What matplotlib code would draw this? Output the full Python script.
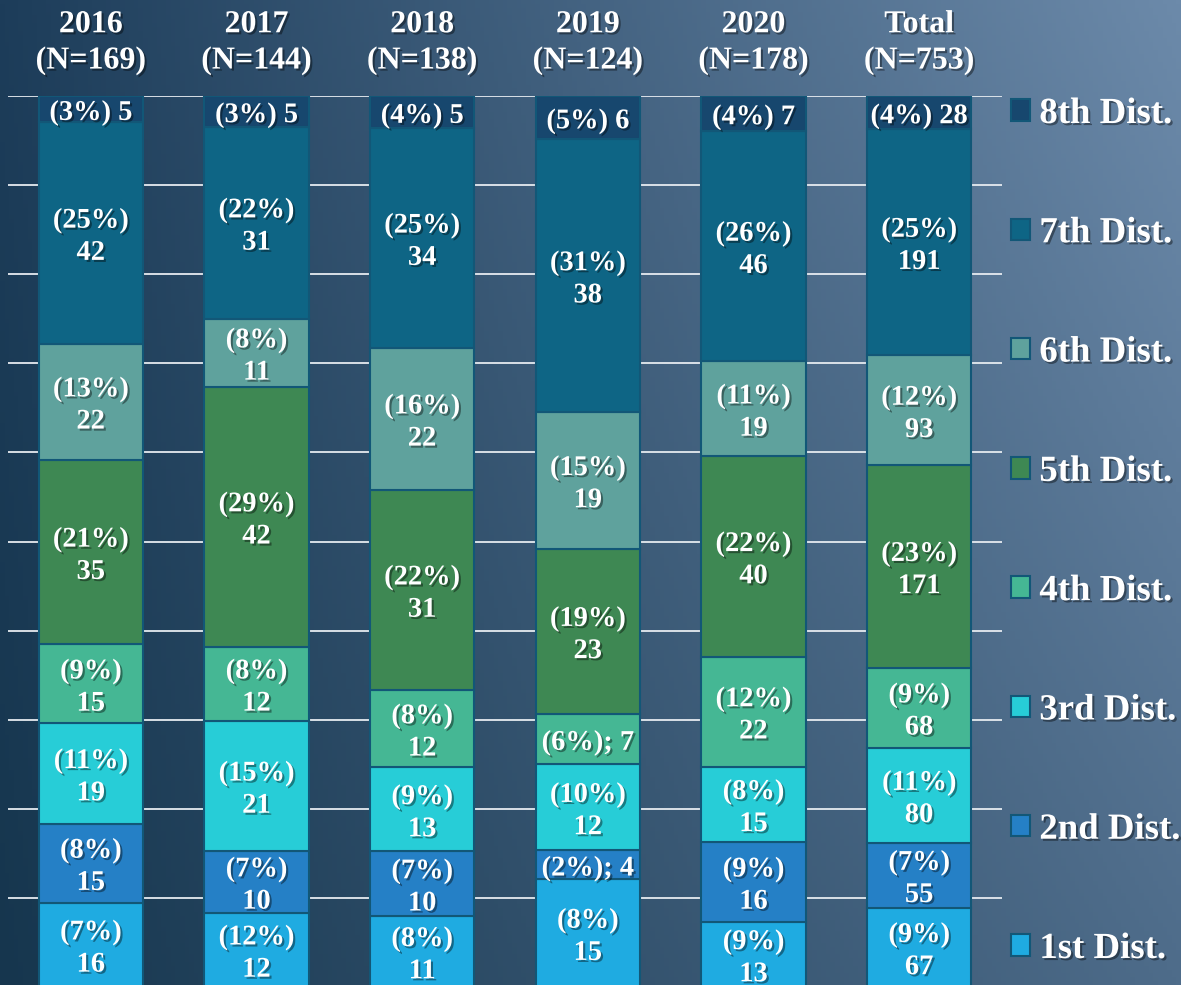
import numpy as np
import matplotlib.pyplot as plt
import matplotlib.patheffects as pe
from matplotlib.patches import Patch

years = ['2016', '2017', '2018', '2019', '2020', 'Total']
districts = ['1st Dist.', '2nd Dist.', '3rd Dist.', '4th Dist.',
             '5th Dist.', '6th Dist.', '7th Dist.', '8th Dist.']

# counts per district (rows) for each year (columns)
counts = np.array([
    [16, 12, 11, 15, 13, 67],
    [15, 10, 10, 4, 16, 55],
    [19, 21, 13, 12, 15, 80],
    [15, 12, 12, 7, 22, 68],
    [35, 42, 31, 23, 40, 171],
    [22, 11, 22, 19, 19, 93],
    [42, 31, 34, 38, 46, 191],
    [5, 5, 5, 6, 7, 28],
])
# percentages as printed on the labels
pct_labels = np.array([
    [7, 12, 8, 8, 9, 9],
    [8, 7, 7, 2, 9, 7],
    [11, 15, 9, 10, 8, 11],
    [9, 8, 8, 6, 12, 9],
    [21, 29, 22, 19, 22, 23],
    [13, 8, 16, 15, 11, 12],
    [25, 22, 25, 31, 26, 25],
    [3, 3, 4, 5, 4, 4],
])
colors = ['#1fabe1', '#2580c6', '#27cdd7', '#45b794',
          '#3e8853', '#5fa29d', '#0e6585', '#17476e']

totals = counts.sum(axis=0)

W, H = 1181, 985
fig = plt.figure(figsize=(W / 100, H / 100), dpi=100)

# background gradient: dark navy on the left, slate blue towards top right
bg = fig.add_axes([0, 0, 1, 1])
xs = np.linspace(0, 1, 256)
ys = np.linspace(0, 1, 256)
X, Y = np.meshgrid(xs, ys)
tl = np.array([29, 61, 90]) / 255
tr = np.array([108, 138, 170]) / 255
bl = np.array([22, 54, 78]) / 255
br = np.array([78, 108, 138]) / 255
grad = ((1 - X)[..., None] * (1 - Y)[..., None] * tl + X[..., None] * (1 - Y)[..., None] * tr
        + (1 - X)[..., None] * Y[..., None] * bl + X[..., None] * Y[..., None] * br)
bg.imshow(grad, aspect='auto', extent=[0, 1, 0, 1], origin='upper')
bg.axis('off')

ax = fig.add_axes([8 / W, -2 / H, 994 / W, 891 / H])
ax.patch.set_alpha(0)
ax.set_xlim(-0.5, 5.5)
ax.set_ylim(0, 1)
for s in ax.spines.values():
    s.set_visible(False)
ax.set_xticks([])
ax.set_yticks([])
for g in np.arange(0.1, 1.01, 0.1):
    ax.axhline(g, color='#e6ebf0', lw=1.3, zorder=0)

shadow = [pe.withSimplePatchShadow(offset=(1.5, -1.5), shadow_rgbFace='black', alpha=0.4)]
serif = 'Liberation Serif'

x = np.arange(len(years))
bottom = np.zeros(len(years))
for i, name in enumerate(districts):
    frac = counts[i] / totals
    ax.bar(x, frac, 0.63, bottom=bottom, color=colors[i], edgecolor='#125777',
           linewidth=1.5, zorder=2)
    for j in range(len(years)):
        mid = bottom[j] + frac[j] / 2
        if i == 7:
            txt = '(%d%%) %d' % (pct_labels[i, j], counts[i, j])
        elif frac[j] < 0.06:
            txt = '(%d%%); %d' % (pct_labels[i, j], counts[i, j])
        else:
            txt = '(%d%%)\n%d' % (pct_labels[i, j], counts[i, j])
        ax.annotate(txt, (x[j], mid), xytext=(0, -3), textcoords='offset points',
                    ha='center', va='center', color='white',
                    fontsize=20.5, fontweight='bold', family=serif,
                    linespacing=1.38, zorder=3, path_effects=shadow)
    bottom += frac

for j, yr in enumerate(years):
    ax.text(x[j], 1.0596, '%s\n(N=%d)' % (yr, totals[j]), ha='center',
            va='center', color='white', fontsize=23, fontweight='bold',
            family=serif, linespacing=1.33, path_effects=shadow)

handles = [Patch(facecolor=colors[i], edgecolor='#125777', linewidth=1.5)
           for i in range(len(districts))][::-1]
leg = fig.legend(handles, districts[::-1], loc='upper left',
                 bbox_to_anchor=(1011 / W, 1 - 96 / H), frameon=False,
                 prop={'family': serif, 'weight': 'bold', 'size': 26.5},
                 labelcolor='white', handlelength=0.52, handleheight=0.52,
                 handletextpad=0.25, labelspacing=2.29, borderpad=0,
                 borderaxespad=0)
for t in leg.get_texts():
    t.set_path_effects(shadow)

fig.savefig('out.png', dpi=100)
